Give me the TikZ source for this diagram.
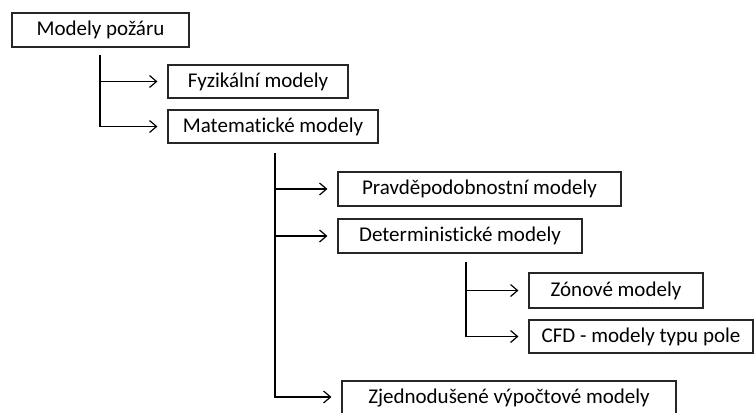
\documentclass[tikz,border=0pt]{standalone}
\usepackage{fontspec}
\setmainfont{Carlito}[Ligatures=NoCommon]
\usepackage{tikz}
\usetikzlibrary{arrows.meta,positioning}
\tikzset{
  modelbox/.style={draw=black!85, line width=1.1pt, rectangle, inner sep=0pt,
                   minimum height=#1, font=\fontsize{21}{24}\selectfont},
  modelbox/.default=34pt,
  link/.style={line width=1.2pt, -{Straight Barb[length=7pt,width=12pt,line width=1.2pt]},
               shorten >=10pt},
}
\begin{document}
\begin{tikzpicture}[x=1pt,y=-1pt]
  \clip (0,0) rectangle (754,412);
  \fill[white] (0,0) rectangle (754,412);
  % level 0
  \node[modelbox, minimum width=177pt] (root) at (100.5,30) {Modely požáru};
  % level 1
  \node[modelbox=33pt, minimum width=180pt] (fyz) at (258,81.5) {Fyzikální modely\hspace{11pt}};
  \node[modelbox=33pt, minimum width=210pt] (mat) at (273,126.5) {Matematické modely};
  \coordinate (rootfoot) at (100,55);
  \draw[link] (rootfoot) |- (fyz.west);
  \draw[link] (rootfoot) |- (mat.west);
  % level 2
  \node[modelbox, minimum width=283pt] (prav) at (479.5,189) {Pravděpodobnostní modely};
  \node[modelbox, minimum width=244pt] (det) at (460,236) {Deterministické modely};
  \node[modelbox, minimum width=334pt] (zjed) at (509,398) {Zjednodušené výpočtové modely};
  \coordinate (matfoot) at (275,153);
  \draw[link] (matfoot) |- (prav.west);
  \draw[link] (matfoot) |- (det.west);
  \draw[link] (matfoot) |- ([yshift=1pt]zjed.west);
  % level 3
  \node[modelbox=35pt, minimum width=174pt] (zon) at (616,290.5) {Zónové modely};
  \node[modelbox=33pt, minimum width=224pt] (cfd) at (641,336.5) {CFD - modely typu pole};
  \coordinate (detfoot) at (466,262);
  \draw[link] (detfoot) |- (zon.west);
  \draw[link] (detfoot) |- (cfd.west);
\end{tikzpicture}
\end{document}
